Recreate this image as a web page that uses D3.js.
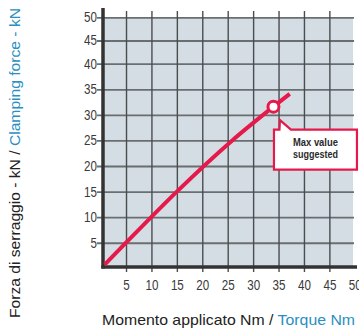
<!DOCTYPE html>
<html>
<head>
<meta charset="utf-8">
<script src="https://cdn.jsdelivr.net/npm/d3@7"></script>
<style>
  html, body { margin: 0; padding: 0; background: #ffffff; }
  svg { display: block; }
  text { font-family: "Liberation Sans", Arial, sans-serif; }
</style>
</head>
<body>
<svg id="chart" width="359" height="329"></svg>
<script>
// Clamping force versus applied torque
const torqueNm = [0.8, 5, 15, 25.9, 34, 37.2];
const forceKN  = [0.7, 5, 15, 25, 31.6, 34.1];

// Recommended maximum point on the curve
const maxTorque = [34];
const maxForce  = [31.6];
const calloutLines = ["Max value", "suggested"];

const xTicks = [5, 10, 15, 20, 25, 30, 35, 40, 45, 50];
const xGridTicks = [5, 10, 15, 20, 25, 30, 35, 40, 45];
const yTicks = [5, 10, 15, 20, 25, 30, 35, 40, 45, 50];

const xTitle = ["Momento applicato Nm / ", "Torque Nm"];
const yTitle = ["Forza di serraggio - kN / ", "Clamping force - kN"];

const RED = "#e5194b";
const BLUE = "#2a8fc2";
const NARROW = 0.83; // horizontal squeeze giving a condensed face

const svg = d3.select("#chart");

const x = d3.scaleLinear().domain([0, 50]).range([100.6, 354.8]);
const y = d3.scaleLinear().domain([0, 40, 50]).range([268.3, 63.7, 17.3]);

// squeeze a text element horizontally to a condensed width
function condense(sel, factor) {
  sel.each(function () {
    const w = this.getComputedTextLength();
    d3.select(this).attr("textLength", w * factor).attr("lengthAdjust", "spacingAndGlyphs");
  });
}
// squeeze a text element to a fixed width
function fitWidth(sel, width) {
  sel.attr("textLength", width).attr("lengthAdjust", "spacingAndGlyphs");
}

// plot background
svg.append("rect")
  .attr("x", 103).attr("y", y(50))
  .attr("width", 353 - 103).attr("height", 267 - y(50))
  .attr("fill", "#d3dde3");

// horizontal grid lines (also form the left tick marks)
svg.append("g")
  .attr("transform", "translate(354,0)")
  .call(d3.axisLeft(y).tickValues(yTicks).tickSize(257).tickFormat(""))
  .call(g => g.select(".domain").remove())
  .call(g => g.selectAll(".tick line").attr("stroke", "#6b6e70").attr("stroke-width", 1.8));

// vertical grid lines (also form the bottom tick marks)
svg.append("g")
  .attr("transform", "translate(0,272)")
  .call(d3.axisBottom(x).tickValues(xGridTicks).tickSize(-261).tickFormat(""))
  .call(g => g.select(".domain").remove())
  .call(g => g.selectAll(".tick line").attr("stroke", "#4a4d4f").attr("stroke-width", 1.4));

// y tick labels
svg.append("g")
  .attr("transform", "translate(103,0)")
  .call(d3.axisLeft(y).tickValues(yTicks).tickSize(0).tickPadding(6))
  .call(g => g.select(".domain").remove())
  .call(g => g.selectAll("text")
    .attr("font-size", 14).attr("fill", "#3a3a3a")
    .style("font-family", "'Liberation Sans', Arial, sans-serif")
    .call(condense, NARROW));

// x tick labels
svg.append("g")
  .attr("transform", "translate(0,272)")
  .call(d3.axisBottom(x).tickValues(xTicks).tickSize(0).tickPadding(8))
  .call(g => g.select(".domain").remove())
  .call(g => g.selectAll("text")
    .attr("font-size", 14).attr("fill", "#3a3a3a")
    .style("font-family", "'Liberation Sans', Arial, sans-serif")
    .call(condense, NARROW));

// axis lines
svg.append("line")
  .attr("x1", 103).attr("x2", 103).attr("y1", 8).attr("y2", 268.5)
  .attr("stroke", "#333").attr("stroke-width", 3.5);
svg.append("line")
  .attr("x1", 101.3).attr("x2", 357).attr("y1", 267).attr("y2", 267)
  .attr("stroke", "#333").attr("stroke-width", 3.5);

// force curve
const pts = torqueNm.map((t, i) => [t, forceKN[i]]);
svg.append("path")
  .datum(pts)
  .attr("d", d3.line().x(d => x(d[0])).y(d => y(d[1])).curve(d3.curveMonotoneX))
  .attr("fill", "none")
  .attr("stroke", RED)
  .attr("stroke-width", 4)
  .attr("stroke-linecap", "butt");

// max-value marker
const mx = x(maxTorque[0]), my = y(maxForce[0]);
svg.append("circle")
  .attr("cx", mx).attr("cy", my).attr("r", 5.5)
  .attr("fill", "#ffffff").attr("stroke", RED).attr("stroke-width", 3);

// callout bubble with pointer towards the marker
const bx = mx + 0.5, by = my + 23, bw = 83, bh = 40;
const tipX = mx + 6.5, tipY = my + 13.5;
const bubble = d3.path();
bubble.moveTo(bx, by);
bubble.lineTo(tipX - 0.5, by);
bubble.lineTo(tipX, tipY);
bubble.lineTo(tipX + 11, by);
bubble.lineTo(bx + bw, by);
bubble.lineTo(bx + bw, by + bh);
bubble.lineTo(bx, by + bh);
bubble.closePath();
svg.append("path")
  .attr("d", bubble.toString())
  .attr("fill", "#ffffff")
  .attr("stroke", RED)
  .attr("stroke-width", 2.2)
  .attr("stroke-linejoin", "miter");

svg.append("g")
  .selectAll("text")
  .data(calloutLines)
  .join("text")
  .attr("x", bx + bw / 2)
  .attr("y", (d, i) => by + 16.6 + i * 11.4)
  .attr("text-anchor", "middle")
  .attr("font-size", 11.5).attr("font-weight", "bold").attr("fill", "#2a2a2a")
  .text(d => d)
  .call(fitWidth, 45);

// x axis title
const xt = svg.append("text")
  .attr("x", 228.5).attr("y", 325)
  .attr("text-anchor", "middle")
  .attr("font-size", 15);
xt.append("tspan").attr("fill", "#222").text(xTitle[0]);
xt.append("tspan").attr("fill", BLUE).text(xTitle[1]);
fitWidth(xt, 253);

// y axis title
const yt = svg.append("text")
  .attr("transform", "translate(19.5,163) rotate(-90)")
  .attr("text-anchor", "middle")
  .attr("font-size", 15.5);
yt.append("tspan").attr("fill", "#222").text(yTitle[0]);
yt.append("tspan").attr("fill", BLUE).text(yTitle[1]);
fitWidth(yt, 310);
</script>
</body>
</html>
